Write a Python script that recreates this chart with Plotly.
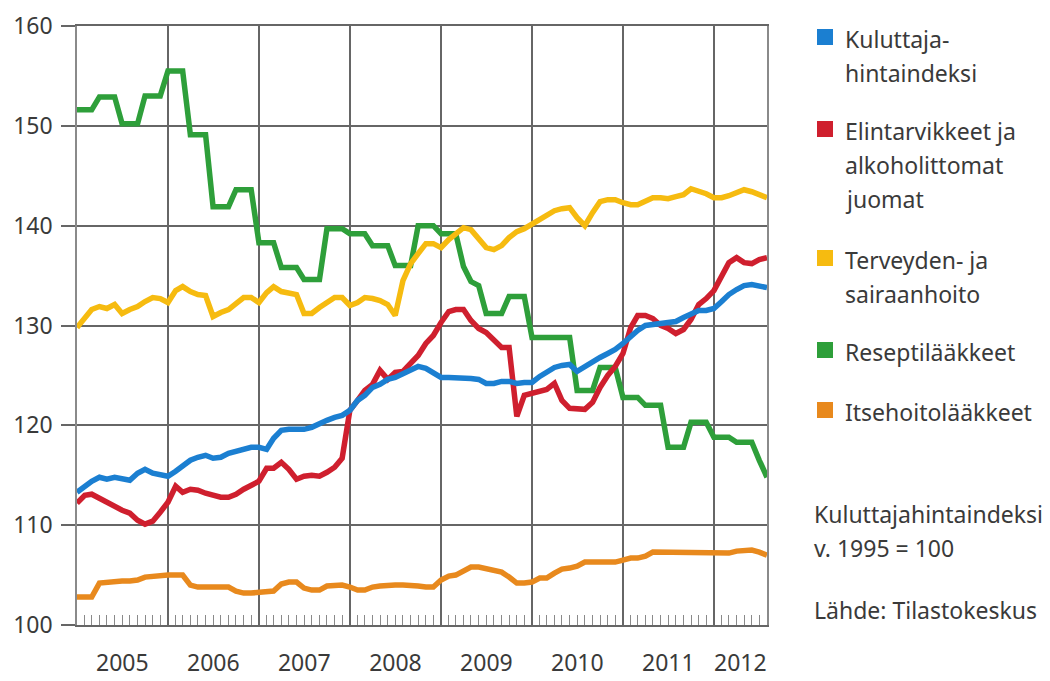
import pandas as pd
import plotly.graph_objects as go

# Monthly observations, Jan 2005 .. Aug 2012
months = pd.date_range("2005-01-01", "2012-08-01", freq="MS")

kuluttajahintaindeksi = [
    113.3, 113.9, 114.4, 114.8, 114.6, 114.8, 114.6, 114.5, 115.2, 115.6, 115.2, 115.1,
    114.9, 115.4, 116.0, 116.5, 116.8, 117.0, 116.7, 116.8, 117.2, 117.4, 117.7, 117.8,
    117.8, 117.6, 118.7, 119.5, 119.6, 119.6, 119.6, 119.8, 120.2, 120.5, 120.8, 121.0,
    121.5, 122.5, 123.0, 123.8, 124.1, 124.6, 124.8, 125.2, 125.6, 125.9, 125.7, 125.2,
    124.8, 124.8, 124.8, 124.8, 124.7, 124.6, 124.2, 124.2, 124.4, 124.4, 124.2, 124.3,
    124.3, 124.9, 125.4, 125.8, 126.0, 126.1, 125.4, 125.9, 126.3, 126.8, 127.2, 127.6,
    128.2, 128.9, 129.5, 130.0, 130.1, 130.3, 130.3, 130.4, 130.8, 131.2, 131.5, 131.5,
    131.7, 132.4, 133.1, 133.6, 134.0, 134.1, 134.0, 133.8,
]
elintarvikkeet = [
    112.2, 113.0, 113.1, 112.7, 112.3, 111.8, 111.5, 111.2, 110.5, 110.1, 110.4, 111.3,
    112.3, 113.9, 113.3, 113.6, 113.5, 113.2, 113.0, 112.8, 112.8, 113.1, 113.6, 114.0,
    114.4, 115.7, 115.7, 116.3, 115.6, 114.6, 114.9, 115.0, 114.9, 115.3, 115.8, 116.7,
    121.5, 122.5, 123.5, 124.1, 125.5, 124.6, 125.3, 125.4, 126.3, 127.0, 128.2, 129.0,
    130.3, 131.4, 131.6, 131.6, 130.5, 129.7, 129.3, 128.6, 127.8, 127.8, 120.9, 123.0,
    123.2, 123.3, 123.6, 124.2, 122.5, 121.7, 121.7, 121.6, 122.3, 123.8, 125.0, 125.9,
    127.2, 129.8, 131.0, 131.0, 130.7, 130.0, 129.7, 129.2, 129.6, 130.6, 132.1, 132.7,
    133.5, 135.0, 136.3, 136.8, 136.3, 136.2, 136.6, 136.8,
]
terveydenhoito = [
    129.8, 130.8, 131.6, 131.9, 131.7, 132.1, 131.2, 131.6, 131.9, 132.4, 132.8, 132.7,
    132.3, 133.5, 133.9, 133.4, 133.1, 133.0, 130.9, 131.3, 131.6, 132.2, 132.8, 132.8,
    132.3, 133.3, 133.9, 133.4, 133.2, 133.1, 131.2, 131.2, 131.8, 132.3, 132.8, 132.8,
    132.0, 132.3, 132.8, 132.7, 132.5, 132.1, 131.0, 134.5, 136.2, 137.2, 138.2, 138.2,
    137.8, 138.6, 139.2, 139.8, 139.6, 138.6, 137.8, 137.6, 138.0, 138.8, 139.4, 139.7,
    140.2, 140.6, 141.1, 141.5, 141.7, 141.8, 140.8, 140.0, 141.3, 142.4, 142.6, 142.6,
    142.3, 142.1, 142.1, 142.5, 142.8, 142.8, 142.7, 142.9, 143.1, 143.7, 143.5, 143.2,
    142.8, 142.8, 143.0, 143.3, 143.6, 143.4, 143.1, 142.8,
]
reseptilaakkeet = [
    151.6, 151.6, 151.6, 152.9, 152.9, 152.9, 150.2, 150.2, 150.2, 153.0, 153.0, 153.0,
    155.5, 155.5, 155.5, 149.1, 149.1, 149.1, 141.9, 141.9, 141.9, 143.6, 143.6, 143.6,
    138.3, 138.3, 138.3, 135.8, 135.8, 135.8, 134.6, 134.6, 134.6, 139.7, 139.7, 139.7,
    139.2, 139.2, 139.2, 138.0, 138.0, 138.0, 136.0, 136.0, 136.0, 140.0, 140.0, 140.0,
    139.2, 139.2, 139.2, 135.9, 134.4, 134.0, 131.2, 131.2, 131.2, 132.9, 132.9, 132.9,
    128.8, 128.8, 128.8, 128.8, 128.8, 128.8, 123.5, 123.5, 123.5, 125.8, 125.8, 125.8,
    122.8, 122.8, 122.8, 122.0, 122.0, 122.0, 117.8, 117.8, 117.8, 120.3, 120.3, 120.3,
    118.8, 118.8, 118.8, 118.3, 118.3, 118.3, 116.5, 114.8,
]
itsehoitolaakkeet = [
    102.8, 102.8, 102.8, 104.2, 104.3, 104.3, 104.4, 104.4, 104.5, 104.8, 104.9, 104.9,
    105.0, 105.0, 105.0, 104.0, 103.8, 103.8, 103.8, 103.8, 103.8, 103.4, 103.2, 103.2,
    103.3, 103.4, 103.4, 104.1, 104.3, 104.3, 103.7, 103.5, 103.5, 103.9, 104.0, 104.0,
    103.8, 103.5, 103.5, 103.8, 103.9, 104.0, 104.0, 104.0, 104.0, 103.9, 103.8, 103.8,
    104.5, 104.9, 105.0, 105.4, 105.8, 105.8, 105.6, 105.4, 105.3, 104.8, 104.2, 104.2,
    104.3, 104.7, 104.7, 105.2, 105.6, 105.7, 105.9, 106.3, 106.3, 106.3, 106.3, 106.3,
    106.5, 106.7, 106.7, 106.9, 107.3, 107.3, 107.3, 107.3, 107.3, 107.3, 107.3, 107.3,
    107.3, 107.2, 107.2, 107.4, 107.5, 107.5, 107.3, 107.0,
]

years = ["2005", "2006", "2007", "2008", "2009", "2010", "2011", "2012"]
year_label_pos = ["2005-07-02", "2006-07-02", "2007-07-02", "2008-07-02",
                  "2009-07-02", "2010-07-02", "2011-07-02", "2012-04-16"]
y_ticks = [100, 110, 120, 130, 140, 150, 160]

series = [
    ("Reseptilääkkeet", reseptilaakkeet, "#2e9f3a"),
    ("Itsehoitolääkkeet", itsehoitolaakkeet, "#e8891d"),
    ("Terveyden- ja sairaanhoito", terveydenhoito, "#f6bb10"),
    ("Elintarvikkeet ja alkoholittomat juomat", elintarvikkeet, "#cf1f2e"),
    ("Kuluttajahintaindeksi", kuluttajahintaindeksi, "#1b7fd1"),
]

FONT = "Noto Sans"
TXT = "#3a3a3a"
GRID = "#666666"

fig = go.Figure()
for name, vals, col in series:
    fig.add_trace(go.Scatter(x=months, y=vals, mode="lines", name=name,
                             line=dict(color=col, width=5.5), showlegend=False))
# invisible trace to activate the year-label axis
fig.add_trace(go.Scatter(x=[months[0]], y=[None], xaxis="x2", showlegend=False,
                         hoverinfo="skip"))

x_range = [months[0], months[-1]]
fig.update_layout(
    width=1050, height=681,
    margin=dict(l=77, r=283, t=26, b=56, autoexpand=False),
    paper_bgcolor="white", plot_bgcolor="white",
    font=dict(family=FONT, size=23, color=TXT),
    xaxis=dict(type="date", range=x_range, tick0="2005-01-01", dtick="M12",
               showgrid=True, gridcolor=GRID, gridwidth=1.5,
               showticklabels=False, ticks="", automargin=False,
               showline=True, linecolor=GRID, linewidth=1.5, mirror=True,
               minor=dict(dtick="M1", tick0="2005-01-01", ticks="inside",
                          ticklen=10, tickcolor="#8a8a8a", tickwidth=1.2,
                          showgrid=False),
               zeroline=False),
    xaxis2=dict(type="date", range=x_range, overlaying="x", anchor="y", side="bottom",
                tickmode="array", tickvals=year_label_pos, ticktext=years,
                showgrid=False, ticks="", showline=False, zeroline=False,
                ticklabelstandoff=22, automargin=False,
                tickfont=dict(family=FONT, size=23, color=TXT)),
    yaxis=dict(range=[100, 160], tickmode="array", tickvals=y_ticks,
               showgrid=True, gridcolor=GRID, gridwidth=1.5,
               ticks="outside", ticklen=14, tickcolor=GRID, tickwidth=1.5,
               ticklabelstandoff=4, automargin=False,
               showline=True, linecolor="#8a8a8a", linewidth=1.5, mirror=True,
               zeroline=False,
               tickfont=dict(family=FONT, size=23, color=TXT)),
)

# legend / notes on the right (pixel positions converted to paper coords)
L, W, T, H = 77, 690, 26, 599
def px(xp):
    return (xp - L) / W
def py(yp):
    return (T + H - yp) / H

legend_items = [
    ("#1b7fd1", 37, ["Kuluttaja-", "hintaindeksi"]),
    ("#cf1f2e", 129, ["Elintarvikkeet ja", "alkoholittomat", "juomat"]),
    ("#f6bb10", 258, ["Terveyden- ja", "sairaanhoito"]),
    ("#2e9f3a", 350, ["Reseptilääkkeet"]),
    ("#e8891d", 410, ["Itsehoitolääkkeet"]),
]
LINE_H = 34
for col, yc, lines in legend_items:
    fig.add_shape(type="rect", xref="paper", yref="paper",
                  x0=px(817), x1=px(833), y0=py(yc + 8), y1=py(yc - 8),
                  fillcolor=col, line=dict(width=0))
    for k, t in enumerate(lines):
        fig.add_annotation(xref="paper", yref="paper", x=px(843), y=py(yc + 2 + k * LINE_H),
                           text=t, showarrow=False, xanchor="left", yanchor="middle",
                           font=dict(family=FONT, size=23, color=TXT))

notes = [("Kuluttajahintaindeksi", 514), ("v. 1995 = 100", 548),
         ("Lähde: Tilastokeskus", 610)]
for t, yc in notes:
    fig.add_annotation(xref="paper", yref="paper", x=px(812), y=py(yc),
                       text=t, showarrow=False, xanchor="left", yanchor="middle",
                       font=dict(family=FONT, size=23, color=TXT))

fig.write_html("out.html", config={"displayModeBar": False},
               post_script="document.body.style.margin='0';")
